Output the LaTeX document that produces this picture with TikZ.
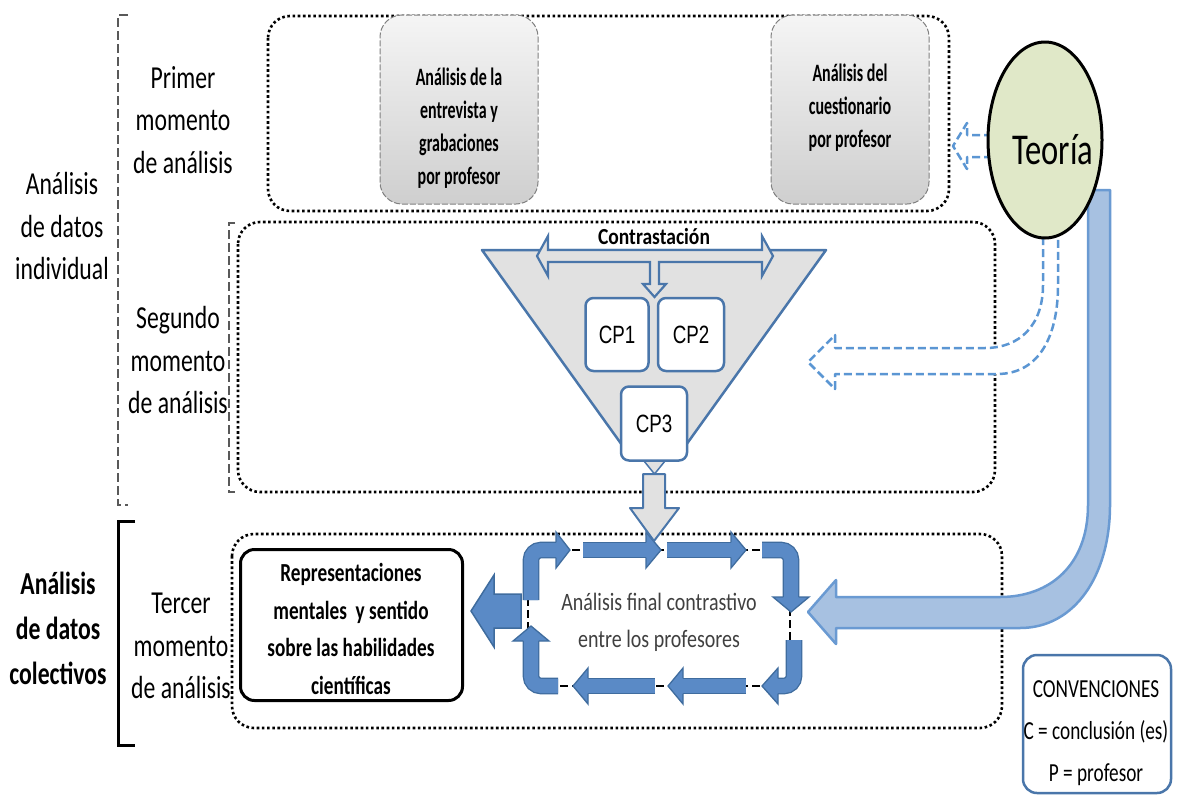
\documentclass[tikz,border=0pt]{standalone}
\usepackage{fontspec}
\setmainfont{Carlito}
\newfontfamily\lab{Carlito}[FakeStretch=0.74]
\newfontfamily\boxf{Carlito}[FakeStretch=0.64]
\newfontfamily\cnt{Carlito}[FakeStretch=0.85]
\newfontfamily\fin{Carlito}[FakeStretch=0.8]
\newfontfamily\cpf{Liberation Sans}[FakeStretch=0.75]
\usetikzlibrary{shapes.geometric}
\definecolor{bluebd}{HTML}{4A76AA}
\definecolor{loopbd}{HTML}{3F6C9E}
\definecolor{loopfill}{HTML}{5A8AC6}
\definecolor{lblue}{HTML}{A7C1E1}
\definecolor{mblue}{HTML}{6A9AD2}
\definecolor{dblue}{HTML}{5B96D3}
\definecolor{teo}{HTML}{E0E8C8}
\definecolor{fgray}{HTML}{E1E1E1}
\definecolor{txtgray}{HTML}{404040}
\begin{document}
\begin{tikzpicture}[x=1pt,y=-1pt,
  lbl/.style={font=\lab\fontsize{32}{42.5}\selectfont, align=center, inner sep=0pt},
  boxtxt/.style={font=\boxf\bfseries\fontsize{25}{33}\selectfont, align=center, inner sep=0pt},
  dotbox/.style={draw=black, line width=2.6pt, dash pattern=on 2.6pt off 2.6pt, rounded corners=22pt},
  brk/.style={draw=gray!70!black, line width=1.3pt, dash pattern=on 9pt off 4pt},
  graybox/.style={draw=gray, line width=1pt, dash pattern=on 6pt off 2pt, rounded corners=22pt, top color=gray!8, bottom color=gray!38, inner sep=0pt},
  cpbox/.style={draw=bluebd, line width=2.5pt, fill=white, rounded corners=8pt, inner sep=0pt, font=\cpf\fontsize{25}{27}\selectfont},
  loopshaft/.style={draw=loopbd, line width=1.3pt, double=loopfill, double distance=14pt, rounded corners=10pt},
  loophead/.style={fill=loopfill, draw=loopbd, line width=1.3pt, line join=miter},
  dasharrow/.style={draw=dblue, line width=2.5pt, dash pattern=on 8pt off 4pt, line join=round, fill=white}
]
\useasboundingbox (0,0) rectangle (1177,796);

% brackets
\draw[brk] (128,15) -- (118,15) -- (118,505) -- (128,505);
\draw[brk] (235,223) -- (229,223) -- (229,492) -- (235,492);
\draw[line width=3pt] (135,521) -- (118,521) -- (118,745) -- (135,745);

% left labels
\node[lbl] (indiv) at (62,226) {Análisis\\de datos\\individual};
\node[lbl, font=\lab\bfseries\fontsize{32}{45}\selectfont] (colec) at (58,628) {Análisis\\de datos\\colectivos};
\node[lbl] (primer) at (183,120) {Primer\\momento\\de análisis};
\node[lbl] (segundo) at (178,360) {Segundo\\momento\\de análisis};
\node[lbl] (tercer) at (181,646) {Tercer\\momento\\de análisis};

% dotted boxes
\draw[dotbox] (268,16) rectangle (949,211);
\draw[dotbox] (238,222) rectangle (995,492);
\draw[dotbox] (232,534) rectangle (1002,728);

% first moment boxes
\node[graybox, minimum width=158pt, minimum height=189pt] (entrevbox) at (459,109.5) {};
\node[boxtxt] (entrev) at (459,128) {Análisis de la\\entrevista y\\grabaciones\\por profesor};
\node[graybox, minimum width=158pt, minimum height=189pt] (cuestbox) at (850,109.5) {};
\node[boxtxt] (cuest) at (850,108) {Análisis del\\cuestionario\\por profesor};

% big light blue curved arrow from Teoria
\filldraw[fill=lblue, draw=mblue, line width=2.5pt, line join=round]
  (1088,190) -- (1088,505) .. controls (1088,565) and (1050,597) .. (1000,597)
  -- (836,597) -- (836,580) -- (808,612) -- (836,644) -- (836,628) -- (1020,628)
  .. controls (1075,628) and (1110,575) .. (1110,505) -- (1110,190) -- cycle;

% dashed hollow arrow into second box
\filldraw[dasharrow] (1043,225) -- (1043,285) .. controls (1043,325) and (1020,348) .. (985,348)
  -- (835,348) -- (835,335) -- (808,362) -- (835,389) -- (835,374) -- (997,374)
  .. controls (1040,374) and (1058,335) .. (1058,285) -- (1058,225);

% small dashed arrow to first box
\filldraw[dasharrow] (992,135) -- (967,135) -- (967,123) -- (953,146) -- (967,169) -- (967,157) -- (992,157);

% Teoria
\node[ellipse, draw=black, line width=3pt, fill=teo, minimum width=114pt, minimum height=196pt, inner sep=0pt] (teoriaE) at (1045,140) {};
\node[font=\lab\fontsize{44}{48}\selectfont, inner sep=0pt] (teoria) at (1053,150) {Teoría};

% funnel
\filldraw[fill=fgray, draw=bluebd, line width=2.5pt, line join=round]
  (482,250) -- (826,250) -- (686,445) -- (622,445) -- cycle;
\filldraw[fill=fgray, draw=bluebd, line width=2.2pt, line join=miter]
  (537,256) -- (548,236) -- (548,250) -- (762,250) -- (762,236) -- (773,256) -- (762,276)
  -- (762,262) -- (659,262) -- (659,284) -- (666,284) -- (654.5,297) -- (643,284)
  -- (650,284) -- (650,262) -- (548,262) -- (548,276) -- cycle;
\node[font=\cnt\bfseries\fontsize{23}{25}\selectfont, inner sep=0pt] (contr) at (654,237) {Contrastación};

\node[cpbox, minimum width=63pt, minimum height=73pt] (cp1) at (617,334.5) {CP1};
\node[cpbox, minimum width=66pt, minimum height=73pt] (cp2) at (691,334.5) {CP2};
\node[cpbox, minimum width=66pt, minimum height=74pt] (cp3) at (654,423.5) {CP3};

% arrow from CP3 down
\filldraw[fill=fgray, draw=bluebd, line width=1.5pt, line join=round] (644,461) -- (665,461) -- (654.5,474) -- cycle;

% loop
\draw[black, line width=2pt, dash pattern=on 8pt off 4pt] (528,550) rectangle (790,686);
\draw[loopshaft] (531,600) -- (531,550) -- (556,550);
\filldraw[loophead] (556,542.4) -- (556,532) -- (570,550) -- (556,568) -- (556,557.6);
\draw[loopshaft] (583,550) -- (646,550);
\filldraw[loophead] (646,542.4) -- (646,532) -- (661,550) -- (646,568) -- (646,557.6);
\draw[loopshaft] (667,550) -- (731,550);
\filldraw[loophead] (731,542.4) -- (731,532) -- (746,550) -- (731,568) -- (731,557.6);
\draw[loopshaft] (762,550) -- (791,550) -- (791,597);
\filldraw[loophead] (783.4,597) -- (773,597) -- (791,612) -- (809,597) -- (798.6,597);
\draw[loopshaft] (794,640) -- (794,686) -- (778,686);
\filldraw[loophead] (778,678.4) -- (778,668) -- (762,686) -- (778,704) -- (778,693.6);
\draw[loopshaft] (746,686) -- (683,686);
\filldraw[loophead] (683,678.4) -- (683,668) -- (668,686) -- (683,704) -- (683,693.6);
\draw[loopshaft] (655,686) -- (588,686);
\filldraw[loophead] (588,678.4) -- (588,668) -- (573,686) -- (588,704) -- (588,693.6);
\draw[loopshaft] (558,686) -- (531,686) -- (531,641);
\filldraw[loophead] (523.4,641) -- (513,641) -- (531,626) -- (549,641) -- (538.6,641);

\node[font=\fin\fontsize{25}{37}\selectfont, text=txtgray, align=center, inner sep=0pt] (final) at (659,622) {Análisis final contrastivo\\entre los profesores};

% big gray arrow down
\filldraw[fill=fgray, draw=bluebd, line width=2pt, line join=round]
  (643,474) -- (665,474) -- (665,508) -- (679,508) -- (654,541) -- (630,508) -- (643,508) -- cycle;

% arrow to representaciones
\filldraw[fill=loopfill, draw=loopbd, line width=1.5pt, line join=miter]
  (521,594) -- (494,594) -- (494,575) -- (471,611) -- (494,647) -- (494,628) -- (521,628) -- cycle;

\node[draw=black, line width=3pt, rounded corners=14pt, minimum width=222pt, minimum height=151pt, fill=white, inner sep=0pt] (repbox) at (351.5,625) {};
\node[font=\lab\bfseries\fontsize{26}{37.5}\selectfont, align=center, inner sep=0pt] (rep) at (351,629) {Representaciones\\mentales\ \ y sentido\\sobre las habilidades\\científicas};

% conventions
\node[draw=bluebd, line width=2.5pt, rounded corners=14pt, minimum width=148pt, minimum height=138pt, inner sep=0pt] (convbox) at (1097,724) {};
\node[font=\lab\fontsize{26}{42}\selectfont, align=center, inner sep=0pt] (conv) at (1096,733) {CONVENCIONES\\C = conclusión (es)\\P = profesor};
\end{tikzpicture}
\end{document}
